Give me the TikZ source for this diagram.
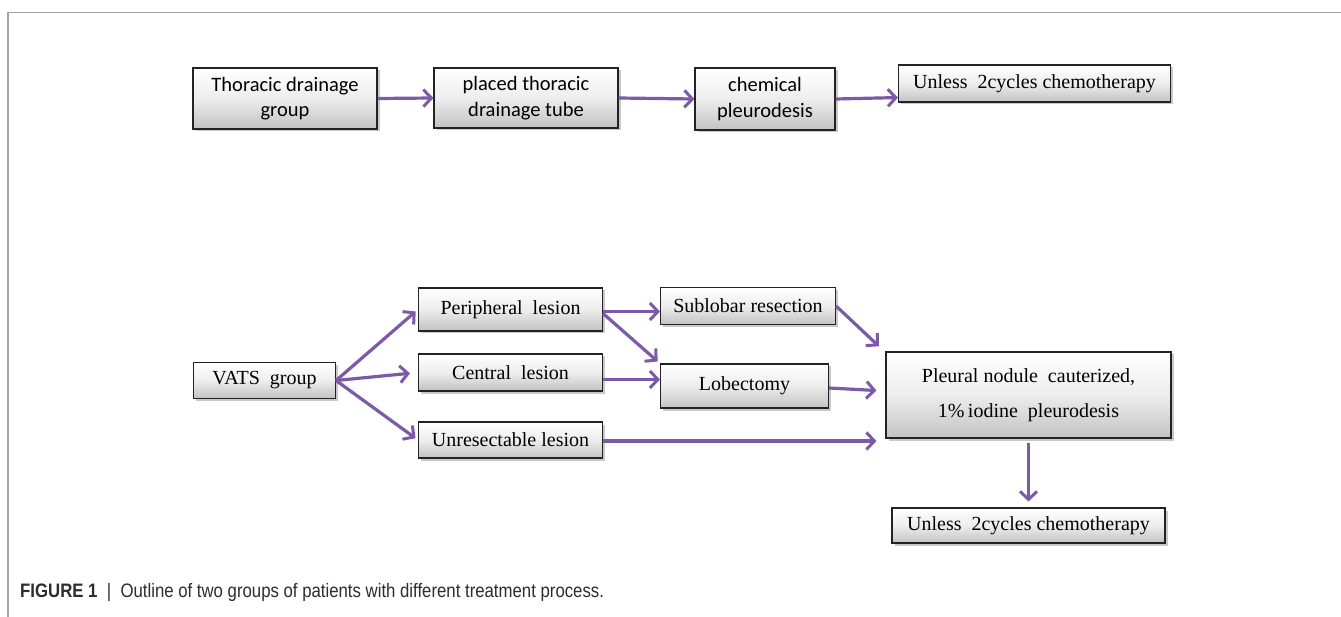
\documentclass[tikz,border=0pt]{standalone}
\usepackage{fontspec}
\setmainfont{Liberation Serif}
\newfontfamily\calib{Carlito}
\newfontfamily\capfont[FakeStretch=0.86]{Liberation Sans}
\usetikzlibrary{arrows.meta,shadows,calc}
\definecolor{arrowc}{RGB}{124,90,168}
\definecolor{framec}{RGB}{165,165,165}
\definecolor{boxline}{RGB}{35,35,35}
\definecolor{captext}{RGB}{45,45,45}
\tikzset{
  box/.style={rectangle, draw=boxline, line width=1.1pt, inner sep=0pt,
    top color=white, bottom color=black!24, middle color=black!7,
    drop shadow={shadow xshift=2.5pt, shadow yshift=-2.5pt, opacity=0.35, fill=black!60},
    align=center},
  topbox/.style={box, font=\calib\fontsize{20.5}{25.5}\selectfont},
  botbox/.style={box, font=\fontsize{20}{24}\selectfont},
  arr/.style={draw=arrowc, line width=3.2pt, -{Straight Barb[length=8pt,width=17pt,line width=3pt]}},
}
\begin{document}
\begin{tikzpicture}[x=1pt,y=-1pt]
\useasboundingbox (0,0) rectangle (1341,617);
\fill[white] (0,0) rectangle (1341,617);
% frame
\coordinate (fTL) at (8,12.5);
\coordinate (fTR) at (1341,12.5);
\coordinate (fBL) at (8,617);
\draw[framec, line width=1.6pt] (fTR) -- (fTL) -- (fBL);

% top row
\node[topbox, minimum width=184pt, minimum height=61pt] (t1) at (285,98.5) {Thoracic drainage\\group};
\node[topbox, minimum width=184pt, minimum height=60pt] (t2) at (526,98) {placed thoracic\\drainage tube};
\node[topbox, minimum width=140pt, minimum height=62pt] (t3) at (765,99) {chemical\\pleurodesis};
\node[botbox, minimum width=272pt, minimum height=37pt] (t4) at (1034.5,83.5) {Unless\ \ 2cycles chemotherapy};

\draw[arr] (t1.east) -- (t2.west);
\draw[arr] (t2.east) -- (t3.west);
\draw[arr] (t3.east) -- ([yshift=5pt]t4.south west);

% bottom part
\node[botbox, minimum width=142pt, minimum height=36pt] (v) at (264.5,380.5) {VATS\ \ group};
\node[botbox, minimum width=184pt, minimum height=43pt] (p) at (510.5,309.5) {Peripheral\ \ lesion};
\node[botbox, minimum width=184pt, minimum height=37pt] (c) at (510.5,372.5) {Central\ \ lesion};
\node[botbox, minimum width=184pt, minimum height=36pt] (u) at (510.5,440) {Unresectable lesion};
\node[botbox, minimum width=175pt, minimum height=37pt] (s) at (748,306) {Sublobar resection};
\node[botbox, minimum width=168pt, minimum height=44pt] (l) at (744.5,386) {Lobectomy};
\node[botbox, minimum width=285pt, minimum height=86pt] (pn) at (1028.5,395) {Pleural nodule\ \ cauterized,\\[11pt]1\%\,iodine\ \ pleurodesis};
\node[botbox, minimum width=273pt, minimum height=35pt] (ub) at (1028.5,525.5) {Unless\ \ 2cycles chemotherapy};

\draw[arr, shorten >=3pt] (v.east) -- (p.west);
\draw[arr, shorten >=8pt] (v.east) -- (c.west);
\draw[arr, shorten >=3pt] (v.east) -- (u.west);

\draw[arr] ([yshift=-2pt]p.east) -- ([yshift=-2pt]p.east -| s.west);
\draw[arr, shorten >=3pt] ([yshift=-4pt]p.east) -- (l.north west);
\draw[arr] ([yshift=-7pt]c.east) -- ([yshift=-7pt]c.east -| l.west);

\draw[arr, shorten >=9pt] (s.east) -- ($(pn.north west)+(0,1)$);
\draw[arr, shorten >=9pt] ([yshift=-2pt]l.east) -- ([yshift=-5pt]l.east -| pn.west);
\draw[arr, shorten >=9pt] ([yshift=-1pt]u.east) -- ([yshift=-1pt]u.east -| pn.west);
\draw[arr, shorten <=4pt, shorten >=6pt] (pn.south) -- (pn.south |- ub.north);

% caption
\node[anchor=base west, inner sep=0pt, font=\capfont\fontsize{19.5}{22}\selectfont, text=captext] (cap) at (20,597)
  {\textbf{FIGURE 1}\ \ |\ \ Outline of two groups of patients with different treatment process.};
\end{tikzpicture}
\end{document}
